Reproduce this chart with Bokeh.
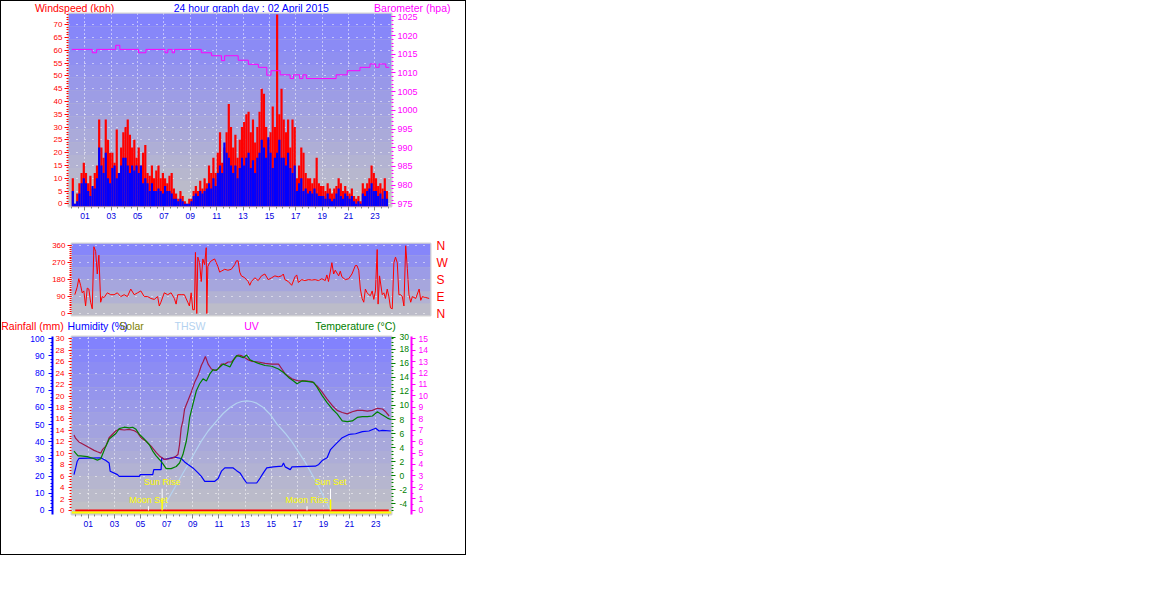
import numpy as np
from bokeh.plotting import figure
from bokeh.models import Range1d, LinearAxis, FixedTicker, Span
from bokeh.embed import file_html
from bokeh.resources import INLINE
from bokeh.core.properties import value

FONT = "Liberation Sans"

# ---------------------------------------------------------------- data
hour_ticks = [1, 3, 5, 7, 9, 11, 13, 15, 17, 19, 21, 23]
hour_labels = ["01", "03", "05", "07", "09", "11", "13", "15", "17", "19", "21", "23"]

# 10-minute samples of wind (kph)
wind_hours = [i / 6 + 1 / 12 for i in range(144)]
wind_gust = [
    10, 0, 4, 8, 12, 16,   12, 8, 11, 6, 12, 15,   33, 22, 18, 33, 25, 20,
    20, 16, 29, 12, 22, 28,   30, 33, 27, 22, 25, 18,   22, 15, 20, 23, 12, 11,
    15, 10, 13, 15, 10, 12,   10, 8, 11, 12, 6, 4,   2, 5, 3, 1, 0, 2,
    2, 5, 7, 5, 9, 6,   10, 8, 15, 12, 18, 12,   20, 28, 16, 22, 28, 39,
    30, 22, 27, 18, 25, 30,   32, 35, 36, 28, 33, 24,   30, 36, 45, 43, 30, 25,
    28, 38, 30, 74, 35, 45,   33, 28, 33, 22, 33, 30,   10, 15, 22, 20, 12, 10,
    10, 8, 10, 18, 8, 7,   7, 5, 8, 6, 4, 6,   7, 10, 8, 5, 7, 5,
    4, 6, 3, 2, 3, 1,   8, 6, 8, 10, 15, 12,   10, 7, 8, 6, 10, 5,
]
wind_avg = [
    5, 0, 1, 4, 8, 10,   8, 5, 3, 7, 6, 10,   22, 15, 12, 20, 10, 8,
    14, 15, 10, 12, 15, 18,   18, 15, 12, 15, 13, 15,   12, 15, 8, 10, 8, 5,
    8, 5, 5, 6, 5, 4,   7, 5, 5, 4, 2, 2,   1, 2, 1, 0, 0, 0,
    1, 3, 4, 3, 5, 4,   5, 6, 8, 6, 10, 7,   12, 15, 12, 24, 20, 18,
    15, 12, 15, 10, 14, 18,   15, 18, 20, 14, 17, 12,   18, 20, 25, 22, 18, 26,
    20, 14, 18, 20, 25, 18,   18, 15, 20, 14, 12, 15,   5, 8, 10, 5, 6, 4,
    5, 4, 6, 4, 3, 3,   3, 2, 4, 2, 1, 2,   4, 6, 3, 2, 4, 3,
    2, 3, 1, 0, 1, 0,   4, 3, 5, 6, 8, 5,   5, 3, 4, 2, 5, 2,
]

# barometer (hPa), step changes
baro_hours = [0.0, 1.56, 1.89, 3.34, 3.65, 5.07, 5.63, 7.08, 7.29, 7.62,
              7.80, 9.83, 10.6, 11.36, 11.6, 12.63, 13.4, 14.16, 14.8, 15.12,
              15.81, 16.57, 16.83, 17.29, 17.54, 17.8, 20.06, 20.9, 21.87, 22.63,
              23.06, 23.32, 23.83, 24.08]
baro_hpa = [1016.3, 1015.4, 1016.3, 1017.4, 1016.3, 1015.4, 1016.3, 1015.4, 1016.3, 1015.4,
            1016.3, 1015.4, 1014.6, 1013.3, 1014.6, 1013.4, 1012.3, 1011.5, 1009.4, 1010.6,
            1009.5, 1008.5, 1009.5, 1008.5, 1009.5, 1008.5, 1009.5, 1010.6, 1011.5, 1012.4,
            1011.5, 1012.4, 1011.5, 1011.5]

# wind direction (degrees)
dir_hours = [
    0.00, 0.16, 0.27, 0.39, 0.50, 0.61, 0.73, 0.84, 0.95, 1.07,
    1.18, 1.29, 1.41, 1.52, 1.63, 1.75, 1.86, 1.98, 2.20, 2.43,
    2.66, 2.88, 3.11, 3.34, 3.56, 3.79, 4.02, 4.25, 4.47, 4.70,
    4.93, 5.15, 5.38, 5.61, 5.72, 5.83, 6.06, 6.29, 6.52, 6.74,
    6.86, 6.97, 7.20, 7.42, 7.65, 7.76, 7.88, 7.99, 8.10, 8.17,
    8.26, 8.33, 8.45, 8.56, 8.67, 8.79, 8.90, 8.94, 9.01, 9.13,
    9.24, 9.47, 9.69, 9.81, 9.92, 10.15, 10.37, 10.60, 10.83, 10.94,
    11.06, 11.17, 11.28, 11.51, 11.74, 11.85, 11.96, 12.19, 12.42, 12.64,
    12.87, 13.10, 13.33, 13.55, 13.78, 14.01, 14.12, 14.23, 14.46, 14.69,
    14.91, 15.03, 15.14, 15.37, 15.60, 15.82, 16.05, 16.28, 16.50, 16.73,
    16.96, 17.07, 17.18, 17.30, 17.41, 17.53, 17.64, 17.87, 17.98, 18.09,
    18.32, 18.55, 18.77, 19.00, 19.11, 19.23, 19.34, 19.46, 19.57, 19.68,
    19.80, 19.91, 20.02, 20.14, 20.25, 20.36, 20.48, 20.54, 20.64, 20.82,
    20.93, 21.04, 21.16, 21.27, 21.38, 21.50, 21.61, 21.72, 21.84, 21.95,
    22.07, 22.18, 22.29, 22.41, 22.52, 22.63, 22.75, 22.86, 23.09, 23.32,
    23.43, 23.54, 23.77, 24.00,
]
dir_deg = [
    100, 140, 185, 150, 110, 120, 40, 135, 130, 60,
    25, 355, 330, 210, 310, 60, 90, 85, 110, 100,
    100, 110, 90, 100, 90, 130, 100, 110, 120, 90,
    90, 80, 75, 90, 40, 60, 110, 100, 110, 80,
    50, 100, 100, 100, 60, 40, 110, 20, 20, 325,
    0, 300, 270, 170, 290, 260, 350, 0, 250, 270,
    280, 290, 250, 220, 225, 235, 230, 235, 260, 280,
    280, 220, 200, 190, 170, 150, 170, 190, 175, 200,
    210, 180, 190, 200, 195, 200, 210, 180, 170, 150,
    195, 205, 165, 180, 175, 180, 178, 180, 175, 185,
    175, 205, 170, 220, 270, 210, 230, 200, 225, 195,
    180, 185, 210, 255, 255, 230, 130, 80, 60, 130,
    110, 100, 95, 120, 75, 120, 340, 50, 200, 100,
    110, 80, 130, 90, 30, 25, 270, 300, 270, 100,
    100, 90, 40, 360, 240, 100, 60, 90, 80, 130,
    70, 90, 85, 80,
]

# temperature (deg C)
temp_hours = [
    -0.10, 0.03, 0.21, 0.41, 0.92, 1.44, 1.69, 1.95, 2.08, 2.34,
    2.59, 2.85, 3.11, 3.36, 3.75, 4.13, 4.39, 4.65, 4.90, 5.29,
    5.67, 5.93, 6.19, 6.44, 6.70, 6.96, 7.34, 7.73, 7.98, 8.24,
    8.50, 8.63, 8.76, 9.01, 9.27, 9.52, 9.78, 10.04, 10.30, 10.55,
    10.81, 11.07, 11.32, 11.58, 11.84, 12.09, 12.35, 12.61, 12.86, 13.12,
    13.38, 13.63, 14.02, 14.53, 15.04, 15.56, 15.94, 16.33, 16.71, 16.97,
    17.36, 17.87, 18.25, 18.51, 18.90, 19.28, 19.67, 20.05, 20.44, 20.82,
    21.21, 21.59, 21.98, 22.36, 22.75, 23.13, 23.39, 23.65, 23.90, 24.16,
]
temp_c = [
    3.5, 3.2, 2.8, 2.8, 2.7, 2.4, 2.2, 2.4, 3.0, 4.2,
    5.2, 5.6, 6.0, 6.7, 6.9, 6.8, 6.9, 6.6, 5.9, 5.2,
    4.4, 3.5, 2.8, 2.3, 1.7, 1.0, 1.0, 1.3, 1.8, 3.0,
    4.9, 6.4, 8.3, 10.2, 12.1, 13.1, 13.8, 13.5, 14.5, 15.1,
    15.0, 15.5, 15.9, 15.7, 15.5, 16.4, 17.1, 17.0, 16.8, 17.2,
    16.5, 16.3, 16.0, 15.7, 15.6, 15.2, 14.7, 14.0, 13.5, 13.1,
    13.5, 13.4, 13.3, 12.6, 11.4, 10.4, 9.5, 8.8, 7.8, 7.7,
    7.8, 8.3, 8.4, 8.4, 8.5, 9.1, 8.8, 8.5, 8.2, 8.0,
]

# second temperature trace (maroon)
feel_hours = [
    -0.10, 0.03, 0.28, 0.67, 1.05, 1.44, 1.69, 1.95, 2.08, 2.34,
    2.59, 2.85, 3.11, 3.36, 3.75, 4.13, 4.52, 4.78, 5.03, 5.42,
    5.80, 6.19, 6.44, 6.83, 7.21, 7.60, 7.86, 7.98, 8.11, 8.24,
    8.37, 8.63, 8.88, 9.14, 9.40, 9.65, 9.78, 9.96, 10.17, 10.42,
    10.68, 10.94, 11.19, 11.45, 11.71, 11.96, 12.22, 12.48, 12.73, 12.99,
    13.25, 13.50, 14.02, 14.53, 15.04, 15.56, 15.82, 16.07, 16.59, 17.10,
    17.61, 18.13, 18.51, 18.90, 19.28, 19.67, 20.05, 20.44, 20.82, 21.21,
    21.59, 21.98, 22.36, 22.75, 23.13, 23.52, 23.77, 24.03,
]
feel_c = [
    5.8, 5.3, 4.8, 4.4, 4.0, 3.6, 3.4, 3.2, 3.7, 4.2,
    5.4, 5.9, 6.4, 6.6, 6.5, 6.6, 6.4, 6.1, 5.4, 4.9,
    4.2, 3.3, 2.8, 2.3, 2.4, 2.6, 3.0, 4.4, 6.8, 7.8,
    9.5, 10.7, 11.9, 13.3, 14.3, 15.7, 16.2, 17.0, 15.9, 15.2,
    15.0, 15.2, 15.9, 15.9, 16.2, 16.2, 16.8, 17.2, 17.1, 16.8,
    16.5, 16.3, 16.2, 16.0, 15.9, 15.9, 15.2, 14.5, 13.8, 13.5,
    13.5, 13.4, 12.8, 11.9, 10.9, 10.0, 9.3, 9.0, 8.8, 9.1,
    9.3, 9.3, 9.2, 9.3, 9.6, 9.5, 9.1, 8.5,
]

# humidity (%)
hum_hours = [
    -0.10, 0.03, 0.15, 0.28, 1.95, 2.34, 2.59, 2.67, 3.23, 3.36,
    4.90, 4.98, 5.93, 6.01, 6.57, 6.62, 6.83, 7.60, 8.11, 8.37,
    8.63, 9.01, 9.40, 9.65, 9.91, 10.68, 10.94, 11.19, 11.45, 12.09,
    12.35, 12.61, 12.86, 13.12, 13.89, 14.15, 14.40, 14.66, 15.17, 15.82,
    15.94, 16.07, 16.46, 16.59, 18.38, 18.64, 18.90, 19.28, 19.54, 19.92,
    20.44, 20.95, 21.46, 21.98, 22.49, 23.00, 23.26, 23.52, 24.16,
]
hum_pct = [
    20.9, 24.8, 28.7, 30.3, 30.7, 29.1, 27.7, 22.9, 20.9, 19.9,
    19.9, 20.9, 20.9, 23.8, 23.8, 30.7, 29.7, 31.1, 30.3, 28.3,
    26.8, 24.8, 21.9, 19.9, 17.0, 17.0, 18.6, 22.9, 24.8, 24.8,
    23.2, 21.9, 18.9, 16.0, 16.0, 18.9, 21.9, 24.8, 25.4, 25.8,
    27.7, 25.4, 23.8, 25.4, 25.8, 26.8, 29.1, 30.7, 35.5, 38.5,
    42.4, 44.3, 44.7, 45.9, 46.3, 47.9, 46.3, 46.7, 46.3,
]

# light blue daylight arc (read on the left 0-100 scale)
thsw_hours = [
    6.70, 7.09, 7.60, 8.11, 8.63, 9.14, 9.65, 10.17, 10.81, 11.32,
    11.84, 12.35, 12.73, 13.12, 13.50, 13.89, 14.40, 14.92, 15.43, 16.07,
    16.59, 17.10, 17.61, 18.13, 18.64, 19.15, 19.54,
]
thsw_val = [
    0, 6.3, 13.1, 19.9, 26.8, 33.6, 40.4, 46.3, 52.0, 56.5,
    60.0, 62.5, 63.5, 63.9, 63.5, 62.5, 60.0, 56.0, 50.5, 45.0,
    40.0, 34.0, 28.0, 21.0, 14.0, 6.0, 0,
]

# rainfall (mm)
rain_hours = [0, 4, 8, 12, 16, 20, 24]
rain_mm = [0, 0, 0, 0, 0, 0, 0]

# sun / moon events
event_names = ["Moon Set", "Sun Rise", "Moon Rise", "Sun Set"]
event_hours = [5.60, 6.65, 17.74, 19.54]

# header texts
top_titles = ["Windspeed (kph)", "24 hour graph day : 02 April 2015", "Barometer (hpa)"]
legend_titles = ["Rainfall (mm)", "Humidity (%)", "Solar", "THSW", "UV", "Temperature (\u00b0C)"]

# axis tick labels of the temperature scale (top label is printed as "30")
temp_ticks = [-4, -2, 0, 2, 4, 6, 8, 10, 12, 14, 16, 18, 19.7]
temp_tick_labels = ["-4", "-2", "0", "2", "4", "6", "8", "10", "12", "14", "16", "18", "30"]

# ---------------------------------------------------------------- style
RED = "#FF0000"
BLUE = "#0000FF"
MAGENTA = "#FF00FF"
GREEN = "#008000"
MAROON = "#A01848"
OLIVE = "#808000"
LIGHTBLUE = "#B4D2F0"
YELLOW = "#FFFF00"
GREYTICK = "#808080"
LABEL_BLUE = "#0000E0"
W = 466            # 464 px of content + 1 px border on each side
BORDER = "1px solid black"


def make_fig(height, xr, yr, left, right, top, bottom, **kw):
    p = figure(width=W, height=height, x_range=Range1d(*xr), y_range=Range1d(*yr),
               output_backend="svg", toolbar_location=None, title=None,
               min_border_left=left, min_border_right=right,
               min_border_top=top, min_border_bottom=bottom,
               background_fill_color="#C0C0C0", border_fill_color="white",
               outline_line_color="#D4D4D4", outline_line_width=2, **kw)
    return p


def header_fig(height, xr):
    h = figure(width=W, height=height, x_range=Range1d(*xr), y_range=Range1d(0, 1),
               output_backend="svg", toolbar_location=None, title=None,
               min_border_left=0, min_border_right=0, min_border_top=0, min_border_bottom=0,
               x_axis_location=None, y_axis_location=None,
               background_fill_color="white", border_fill_color="white", outline_line_color=None)
    h.xgrid[0].grid_line_color = None
    h.ygrid[0].grid_line_color = None
    return h


def put_text(h, x, y, text, color, align="left", size="10.5px", baseline="middle"):
    h.text(x=[x], y=[y], text=[text], text_color=color, text_font=value(FONT),
           text_font_size=size, text_align=align, text_baseline=baseline)


def bands(p, n):
    edges = np.linspace(p.y_range.start, p.y_range.end, n + 1)
    top = np.array([128, 128, 255])
    bot = np.array([194, 194, 196])
    cols = []
    for i in range(n):
        f = (i + 0.5) / n
        c = bot + (top - bot) * f
        cols.append("#%02x%02x%02x" % tuple(int(round(v)) for v in c))
    r = p.quad(left=p.x_range.start, right=p.x_range.end, bottom=edges[:-1], top=edges[1:],
               fill_color=cols, line_color=None)
    r.level = "image"


def grid_style(g, ticks, dash):
    g.ticker = FixedTicker(ticks=ticks)
    g.grid_line_color = "white"
    g.grid_line_dash = dash
    g.grid_line_width = 1


def x_axis_style(ax):
    ax.ticker = FixedTicker(ticks=hour_ticks, minor_ticks=[i * 0.5 for i in range(49)])
    ax.major_label_overrides = dict(zip(hour_ticks, hour_labels))
    ax.major_label_text_color = LABEL_BLUE
    ax.major_label_text_font = FONT
    ax.major_label_text_font_size = "8.5px"
    ax.major_label_standoff = 2
    ax.major_tick_line_color = GREYTICK
    ax.major_tick_out = 4
    ax.major_tick_in = 0
    ax.minor_tick_line_color = GREYTICK
    ax.minor_tick_out = 2
    ax.minor_tick_in = 0
    ax.axis_line_color = None


def y_axis_style(ax, color, ticks, minor, size="8px", standoff=2, tick_out=4,
                 line_color=None, line_width=1, overrides=None, minor_out=2):
    ax.ticker = FixedTicker(ticks=ticks, minor_ticks=minor)
    ax.major_label_text_color = color
    ax.major_label_text_font = FONT
    ax.major_label_text_font_size = size
    ax.major_label_standoff = standoff
    ax.major_tick_line_color = color if tick_out > 0 else None
    ax.major_tick_out = tick_out
    ax.major_tick_in = 0
    ax.minor_tick_line_color = color if minor_out > 0 else None
    ax.minor_tick_out = minor_out
    ax.minor_tick_in = 0
    ax.axis_line_color = line_color
    ax.axis_line_width = line_width
    if overrides:
        ax.major_label_overrides = overrides


# ---------------------------------------------------------------- header 1
h1 = header_fig(16, (-5.359, 30.06))
put_text(h1, -2.82, 0.62, top_titles[0], RED)
put_text(h1, 13.65, 0.62, top_titles[1], BLUE, align="center")
put_text(h1, 22.96, 0.62, top_titles[2], MAGENTA)
h1.styles = {"border-top": BORDER, "border-left": BORDER, "border-right": BORDER}

# ---------------------------------------------------------------- panel 1: wind + barometer
p1 = make_fig(224, (-0.244, 24.26), (-1.06, 74.4), 67, 76, 1, 30)
p1.border_fill_color = None
p1.extra_y_ranges = {"baro": Range1d(974.28, 1025.9)}
bands(p1, 15)
grid_style(p1.xgrid[0], hour_ticks, "1 3")
grid_style(p1.ygrid[0], list(range(0, 75, 5)), "1 7")

p1.vbar(x=wind_hours, top=wind_gust, width=1 / 6, bottom=p1.y_range.start, fill_color=RED, line_color=None)
p1.vbar(x=wind_hours, top=wind_avg, width=1 / 6, bottom=p1.y_range.start, fill_color=BLUE, line_color=None)
p1.step(x=baro_hours, y=baro_hpa, mode="after", y_range_name="baro", line_color=MAGENTA, line_width=1)

x_axis_style(p1.xaxis[0])
y_axis_style(p1.yaxis[0], RED, list(range(0, 75, 5)), list(range(0, 75)))
baro_axis = LinearAxis(y_range_name="baro")
p1.add_layout(baro_axis, "right")
y_axis_style(baro_axis, MAGENTA, list(range(975, 1030, 5)), list(range(975, 1026)), size="9px", standoff=2)
p1.styles = {"border-left": BORDER, "border-right": BORDER, "margin-top": "-4px"}

# ---------------------------------------------------------------- panel 2: wind direction
p2 = make_fig(84, (-0.225, 24.09), (-10.6, 372.2), 70, 37, 7, 5, x_axis_location=None)
bands(p2, 6)
grid_style(p2.ygrid[0], [0, 90, 180, 270, 360], "1 7")
p2.xgrid[0].grid_line_color = None
p2.line(dir_hours, dir_deg, line_color=RED, line_width=1)
y_axis_style(p2.yaxis[0], RED, [0, 90, 180, 270, 360], list(range(0, 361, 10)), size="8px", standoff=2)
compass = LinearAxis()
p2.add_layout(compass, "right")
y_axis_style(compass, RED, [0, 90, 180, 270, 360], [], size="12px", standoff=6, tick_out=0,
             minor_out=0, overrides={0: "N", 90: "E", 180: "S", 270: "W", 360: "N"})
p2.styles = {"border-left": BORDER, "border-right": BORDER}

# ---------------------------------------------------------------- header 3
h3 = header_fig(13, (-5.682, 30.07))
legend_x = [-5.70, -0.62, 3.36, 7.59, 12.94, 18.38]
legend_colors = [RED, BLUE, OLIVE, LIGHTBLUE, MAGENTA, GREEN]
for lx, lt, lc in zip(legend_x, legend_titles, legend_colors):
    put_text(h3, lx, 0.54, lt, lc)
h3.styles = {"border-left": BORDER, "border-right": BORDER}

# ---------------------------------------------------------------- panel 3: temperature etc.
p3 = make_fig(222, (-0.29, 24.21), (-2.34, 101.35), 70, 76, 3, 41, y_axis_location=None)
p3.extra_y_ranges = {
    "rain": Range1d(-0.70, 30.4),
    "temp": Range1d(-5.55, 19.84),
    "uv": Range1d(-0.38, 15.2),
}
bands(p3, 14)
grid_style(p3.xgrid[0], hour_ticks, "1 3")
grid_style(p3.ygrid[0], list(range(0, 101, 10)), "1 7")

p3.line(thsw_hours, thsw_val, line_color=LIGHTBLUE, line_width=1.2)
p3.line(hum_hours, hum_pct, line_color=BLUE, line_width=1.2)
p3.line(feel_hours, feel_c, y_range_name="temp", line_color=MAROON, line_width=1.2)
p3.line(temp_hours, temp_c, y_range_name="temp", line_color=GREEN, line_width=1.2)
p3.add_layout(Span(location=-0.35, dimension="width", y_range_name="rain",
                   line_color=YELLOW, line_width=2))
p3.line(rain_hours, rain_mm, y_range_name="rain", line_color=RED, line_width=2)

is_sun = [n.startswith("Sun") for n in event_names]
sun_hours = [h for h, s in zip(event_hours, is_sun) if s]
p3.segment(x0=event_hours, x1=event_hours,
           y0=[6.4 if s else 0 for s in is_sun], y1=[12.7 if s else 2.5 for s in is_sun],
           line_color="white", line_width=1)
p3.segment(x0=sun_hours, x1=sun_hours, y0=[0] * len(sun_hours), y1=[6.4] * len(sun_hours),
           line_color=YELLOW, line_width=1.5)
p3.text(x=event_hours, y=[16.4 if s else 6.0 for s in is_sun], text=event_names,
        text_color=YELLOW, text_font=value(FONT), text_font_size="9px",
        text_align="center", text_baseline="middle")

x_axis_style(p3.xaxis[0])
rain_axis = LinearAxis(y_range_name="rain")
p3.add_layout(rain_axis, "left")
y_axis_style(rain_axis, RED, list(range(0, 31, 2)), [i * 0.5 for i in range(61)], size="8px", standoff=4, tick_out=3)
hum_axis = LinearAxis()
p3.add_layout(hum_axis, "left")
y_axis_style(hum_axis, BLUE, list(range(0, 101, 10)), list(range(0, 101, 2)), size="8.5px", standoff=4,
             tick_out=4, line_color=BLUE, line_width=2)
temp_axis = LinearAxis(y_range_name="temp")
p3.add_layout(temp_axis, "right")
y_axis_style(temp_axis, GREEN, temp_ticks, [i * 0.5 for i in range(-10, 40)], size="8.5px",
             standoff=4, tick_out=4, overrides=dict(zip(temp_ticks, temp_tick_labels)))
uv_axis = LinearAxis(y_range_name="uv")
p3.add_layout(uv_axis, "right")
y_axis_style(uv_axis, MAGENTA, list(range(0, 16)), [i * 0.5 for i in range(31)], size="8.5px",
             standoff=3, tick_out=4, line_color=MAGENTA, line_width=2)
p3.styles = {"border-left": BORDER, "border-right": BORDER, "border-bottom": BORDER}

open("out.html", "w").write(file_html([h1, p1, p2, h3, p3], INLINE))
